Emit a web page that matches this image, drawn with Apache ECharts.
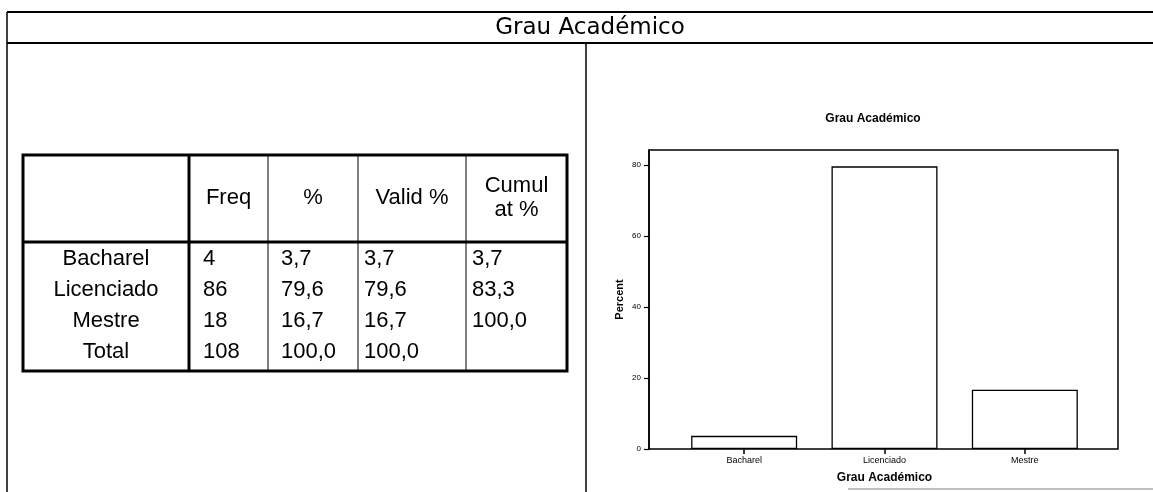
<!DOCTYPE html>
<html>
<head>
<meta charset="utf-8">
<script src="https://cdn.jsdelivr.net/npm/echarts@6/dist/echarts.min.js"></script>
<style>
html,body{margin:0;padding:0;background:#fff;}
#chart{width:1153px;height:492px;}
</style>
</head>
<body>
<div id="chart"></div>
<script>
// ---- Data ----
const pageTitle = 'Grau Académico';
const chartTitle = 'Grau Académico';
const categories = ['Bacharel', 'Licenciado', 'Mestre'];
const percentValues = [3.7, 79.6, 16.7];
const yTicks = [0, 20, 40, 60, 80];
const yAxisName = 'Percent';
const xAxisName = 'Grau Académico';

const tableHeader = ['', 'Freq', '%', 'Valid %', 'Cumul\nat %'];
const rowLabels = ['Bacharel', 'Licenciado', 'Mestre', 'Total'];
const freqCol = ['4', '86', '18', '108'];
const pctCol = ['3,7', '79,6', '16,7', '100,0'];
const validPctCol = ['3,7', '79,6', '16,7', '100,0'];
const cumulPctCol = ['3,7', '83,3', '100,0', ''];

// ---- Layout ----
const FONT = '"Liberation Sans", Arial, sans-serif';
const colX = [23, 189, 268, 358, 466, 567];
const tblTop = 155, headBottom = 242, tblBottom = 371;
const rowH = 31;
const dataTextX = [203, 281, 364, 472];

const grid = {left: 674, right: 58, top: 150, bottom: 43};
const yOffset = 25;

const graphics = [];
function line(x1, y1, x2, y2, w, color) {
  graphics.push({type: 'line', silent: true,
    shape: {x1: x1, y1: y1, x2: x2, y2: y2},
    style: {stroke: color || '#000', lineWidth: w}});
}
function text(x, y, s, opts) {
  graphics.push({type: 'text', silent: true, x: x, y: y,
    style: Object.assign({text: s, fill: '#000', font: '22px ' + FONT,
      textAlign: 'left', textVerticalAlign: 'middle'}, opts || {})});
}

// page frame
line(7, 12, 1153, 12, 2);
line(7, 43, 1153, 43, 2);
line(7, 12, 7, 492, 1.5);
line(586, 43, 586, 492, 1.5);
line(848, 489, 1153, 489, 1.5, '#aaa');

// table borders
graphics.push({type: 'rect', silent: true,
  shape: {x: colX[0], y: tblTop, width: colX[5] - colX[0], height: tblBottom - tblTop},
  style: {fill: 'none', stroke: '#000', lineWidth: 3}});
line(colX[0], headBottom, colX[5], headBottom, 3);
line(colX[1], tblTop, colX[1], tblBottom, 3);
for (let i = 2; i < 5; i++) line(colX[i], tblTop, colX[i], tblBottom, 1);

// table header
const headY = 198;
for (let c = 1; c < tableHeader.length; c++) {
  text((colX[c] + colX[c + 1]) / 2, headY, tableHeader[c],
    {textAlign: 'center', lineHeight: 24});
}
// table body
const cols = [freqCol, pctCol, validPctCol, cumulPctCol];
for (let r = 0; r < rowLabels.length; r++) {
  const y = headBottom + 17 + r * rowH;
  text((colX[0] + colX[1]) / 2, y, rowLabels[r], {textAlign: 'center'});
  for (let c = 0; c < cols.length; c++) {
    text(dataTextX[c], y, cols[c][r]);
  }
}

// bar-chart frame (decoration around plot area)
graphics.push({type: 'rect', silent: true,
  shape: {x: grid.left - yOffset, y: grid.top,
          width: 1153 - grid.right + 23 - (grid.left - yOffset), height: 492 - grid.bottom - grid.top},
  style: {fill: 'none', stroke: '#000', lineWidth: 1.5}});

const chart = echarts.init(document.getElementById('chart'), null, {renderer: 'canvas'});
chart.setOption({
  backgroundColor: '#fff',
  animation: false,
  title: [
    {text: pageTitle, left: 585, top: 12, textAlign: 'center',
     textStyle: {fontFamily: '"DejaVu Sans", sans-serif', fontSize: 23, fontWeight: 'normal', color: '#000'}},
    {text: chartTitle, left: 868, top: 108, textAlign: 'center',
     textStyle: {fontFamily: FONT, fontSize: 12, fontWeight: 'bold', color: '#000'}}
  ],
  grid: grid,
  xAxis: {
    type: 'category',
    data: categories,
    axisLine: {show: false},
    axisTick: {show: true, alignWithLabel: true, length: 5, lineStyle: {color: '#000', width: 1.5}},
    axisLabel: {fontFamily: FONT, fontSize: 9, color: '#000', margin: 7},
    name: xAxisName,
    nameLocation: 'middle',
    nameGap: 23,
    nameTextStyle: {fontFamily: FONT, fontSize: 12, fontWeight: 'bold', color: '#000'}
  },
  yAxis: {
    type: 'value',
    min: 0,
    max: 84.2,
    interval: 20,
    offset: yOffset,
    axisLine: {show: true, lineStyle: {color: '#000', width: 1.5}},
    axisTick: {show: true, length: 5, customValues: yTicks, lineStyle: {color: '#000', width: 1.2}},
    axisLabel: {fontFamily: FONT, fontSize: 8, color: '#000', margin: 8, customValues: yTicks},
    splitLine: {show: false},
    name: yAxisName,
    nameLocation: 'middle',
    nameRotate: 90,
    nameGap: 24,
    nameTextStyle: {fontFamily: FONT, fontSize: 11, fontWeight: 'bold', color: '#000'}
  },
  series: [{
    type: 'bar',
    data: percentValues,
    barWidth: 106,
    itemStyle: {color: '#fff', borderColor: '#000', borderWidth: 1.3}
  }],
  graphic: graphics
});
</script>
</body>
</html>
